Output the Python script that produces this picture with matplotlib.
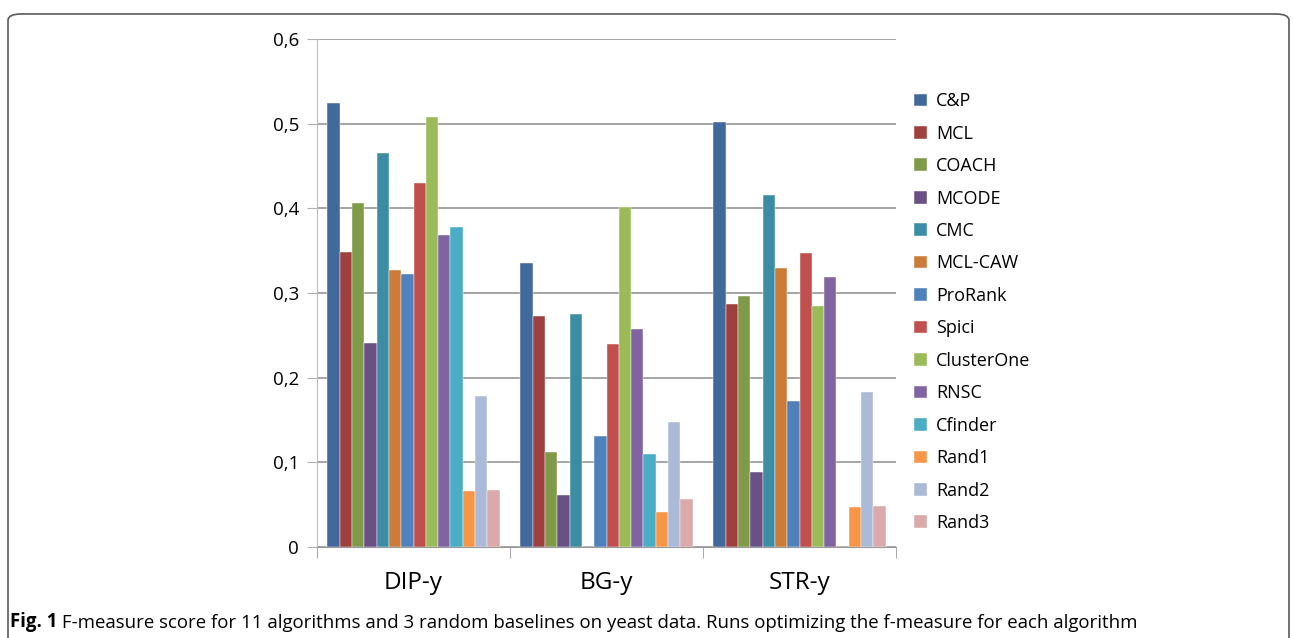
import numpy as np
import matplotlib.pyplot as plt
from matplotlib.patches import FancyBboxPatch

datasets = ['DIP-y', 'BG-y', 'STR-y']
algorithms = ['C&P', 'MCL', 'COACH', 'MCODE', 'CMC', 'MCL-CAW', 'ProRank',
              'Spici', 'ClusterOne', 'RNSC', 'Cfinder', 'Rand1', 'Rand2', 'Rand3']

# f-measure per algorithm, one value per dataset (DIP-y, BG-y, STR-y)
cp = [0.524, 0.335, 0.502]
mcl = [0.348, 0.273, 0.287]
coach = [0.406, 0.112, 0.297]
mcode = [0.241, 0.061, 0.089]
cmc = [0.465, 0.275, 0.416]
mcl_caw = [0.327, 0.0, 0.329]
prorank = [0.323, 0.131, 0.172]
spici = [0.430, 0.240, 0.347]
clusterone = [0.508, 0.401, 0.285]
rnsc = [0.368, 0.258, 0.319]
cfinder = [0.378, 0.110, 0.0]
rand1 = [0.066, 0.041, 0.047]
rand2 = [0.178, 0.148, 0.183]
rand3 = [0.067, 0.057, 0.048]

scores = [cp, mcl, coach, mcode, cmc, mcl_caw, prorank, spici,
          clusterone, rnsc, cfinder, rand1, rand2, rand3]

colors = ['#41699B', '#9E413E', '#7F9A48', '#695185', '#3C8DA3', '#CC7B38',
          '#4F81BD', '#C0504D', '#9BBB59', '#8064A2', '#4BACC6', '#F79646',
          '#AABAD7', '#D9AAA9']

plt.rcParams['font.family'] = ['Open Sans', 'DejaVu Sans']

fig = plt.figure(figsize=(12.93, 6.38), dpi=100)

# rounded frame around the figure panel
frame = FancyBboxPatch((8 / 1293, -0.05), 1281 / 1293, 1 - 14 / 638 + 0.05,
                       boxstyle='round,pad=0,rounding_size=0.01',
                       transform=fig.transFigure, facecolor='none',
                       edgecolor='#5a5a5a', linewidth=1.2, zorder=0)
fig.patches.append(frame)

ax = fig.add_axes([317 / 1293, 91 / 638, 579 / 1293, 508 / 638])

n = len(algorithms)
group_w = 14 / 15.7
bar_w = group_w / n
x = np.arange(len(datasets))
for i, (name, vals) in enumerate(zip(algorithms, scores)):
    offs = -group_w / 2 + bar_w * (i + 0.5)
    ax.bar(x + offs, vals, width=bar_w, color=colors[i], label=name,
           edgecolor='white', linewidth=0.3, zorder=3)

ax.set_xlim(-0.5, 2.5)
ax.set_ylim(0, 0.6)
ax.set_yticks(np.arange(0, 0.61, 0.1))
ax.set_yticklabels(['0', '0,1', '0,2', '0,3', '0,4', '0,5', '0,6'], fontsize=13.5)
ax.yaxis.grid(True, color='#8c8c8c', linewidth=1.1, zorder=0)
ax.tick_params(axis='y', length=7, color='#b0b0b0', pad=6)

ax.set_xticks(x)
ax.set_xticklabels(datasets, fontsize=17.5)
ax.set_xticks([-0.5, 0.5, 1.5, 2.5], minor=True)
ax.tick_params(axis='x', which='major', length=0, pad=17)
ax.tick_params(axis='x', which='minor', length=8, color='#9a9a9a')

for side in ['top', 'right']:
    ax.spines[side].set_visible(False)
ax.spines['left'].set_color('#bdbdbd')
ax.spines['bottom'].set_color('#9a9a9a')

ax.legend(loc='upper left', bbox_to_anchor=(898 / 1293, 1 - 76 / 638),
          bbox_transform=fig.transFigure, frameon=False, fontsize=13,
          handlelength=0.7, handleheight=0.7, handletextpad=0.5,
          labelspacing=0.8)

# caption: bold figure number followed by the description
caption_bold = fig.text(10 / 1293, 1 - 627 / 638, 'Fig. 1', fontsize=13.4,
                        fontweight='bold', va='baseline')
fig.add_artist(plt.Annotation(
    ' F-measure score for 11 algorithms and 3 random baselines on yeast data. '
    'Runs optimizing the f-measure for each algorithm',
    xy=(1, 0), xycoords=caption_bold, va='bottom', ha='left', fontsize=13.4,
    annotation_clip=False))

fig.savefig('out.png', dpi=100)
